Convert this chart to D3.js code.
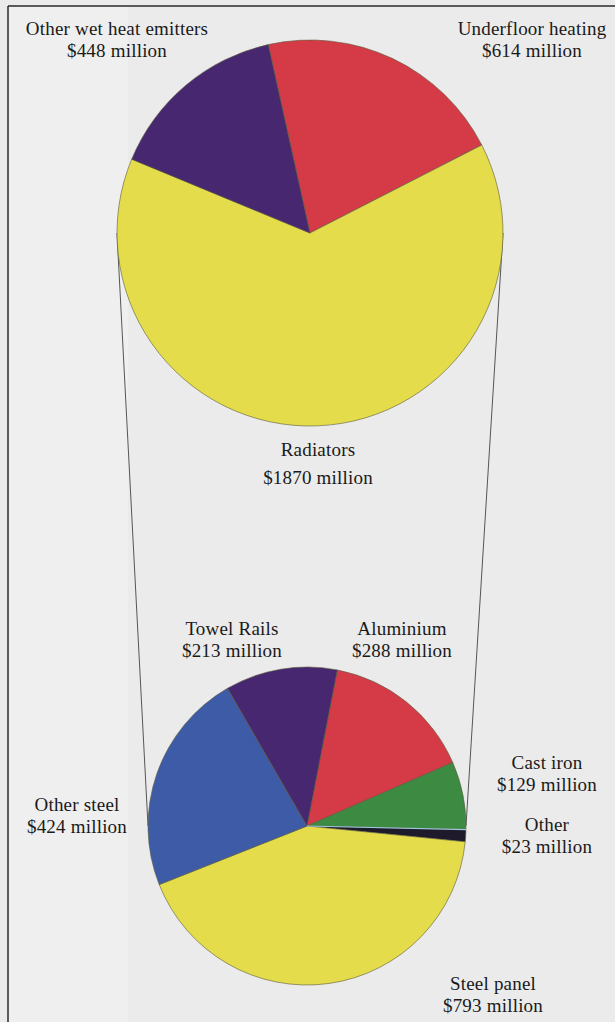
<!DOCTYPE html>
<html>
<head>
<meta charset="utf-8">
<script src="https://cdn.jsdelivr.net/npm/d3@7"></script>
<style>
  html, body { margin: 0; padding: 0; background: #ebebeb; }
  svg { display: block; }
  text { font-family: "Liberation Serif", "DejaVu Serif", serif; fill: #1a1a1a; }
</style>
</head>
<body>
<svg id="chart" width="615" height="1022"></svg>
<script>
// ---- Data ----
const mainCategories = ["Underfloor heating", "Radiators", "Other wet heat emitters"];
const mainValues = [614, 1870, 448];
const mainColors = ["#d43b47", "#e4dc4b", "#472770"];

const subCategories = ["Aluminium", "Cast iron", "Other", "Steel panel", "Other steel", "Towel Rails"];
const subValues = [288, 129, 23, 793, 424, 213];
const subColors = ["#d43b47", "#3d8a43", "#1e1a2c", "#e4dc4b", "#3e5ba7", "#472770"];

const unit = " million";

// ---- Layout ----
const W = 615, H = 1022;
const svg = d3.select("#chart");

svg.append("rect").attr("width", W).attr("height", H).attr("fill", "#ebebeb");
svg.append("rect").attr("x", 8).attr("y", 6).attr("width", 120).attr("height", H).attr("fill", "#efefef");

// border lines
svg.append("line").attr("x1", 8).attr("y1", 6).attr("x2", W).attr("y2", 6)
  .attr("stroke", "#2a2a2a").attr("stroke-width", 1.5);
svg.append("line").attr("x1", 8).attr("y1", 6).attr("x2", 8).attr("y2", H)
  .attr("stroke", "#2a2a2a").attr("stroke-width", 1.5);

const topPie = { cx: 310, cy: 233, r: 193 };
const botPie = { cx: 307, cy: 826, r: 159 };

// connector lines (widest points of both pies)
[-1, 1].forEach(s => {
  svg.append("line")
    .attr("x1", topPie.cx + s * topPie.r).attr("y1", topPie.cy)
    .attr("x2", botPie.cx + s * botPie.r).attr("y2", botPie.cy)
    .attr("stroke", "#555").attr("stroke-width", 1);
});

const deg = Math.PI / 180;

function drawPie(values, colors, center, startDeg) {
  const pie = d3.pie().sort(null).value(d => d)
    .startAngle(startDeg * deg).endAngle((startDeg + 360) * deg);
  const arc = d3.arc().innerRadius(0).outerRadius(center.r);
  const g = svg.append("g").attr("transform", `translate(${center.cx},${center.cy})`);
  g.selectAll("path").data(pie(values)).join("path")
    .attr("d", arc)
    .attr("fill", (d, i) => colors[i])
    .attr("stroke", "#5a5a3a").attr("stroke-width", 0.6);
  return g;
}

drawPie(mainValues, mainColors, topPie, -12.5);
const bg = drawPie(subValues, subColors, botPie, 11);
// light edge between Cast iron and Other
const castEnd = (11 + 360 * (subValues[0] + subValues[1]) / d3.sum(subValues)) * deg;
bg.append("line").attr("x1", 0).attr("y1", 0)
  .attr("x2", botPie.r * Math.sin(castEnd)).attr("y2", -botPie.r * Math.cos(castEnd))
  .attr("stroke", "#9cc8dc").attr("stroke-width", 1.2);

// ---- Labels ----
const labelPos = {
  "Other wet heat emitters": [117, 35],
  "Underfloor heating": [532, 35],
  "Radiators": [318, 456],
  "Towel Rails": [232, 635],
  "Aluminium": [402, 635],
  "Cast iron": [547, 769],
  "Other": [547, 831],
  "Other steel": [77, 811],
  "Steel panel": [493, 990]
};
const allCats = mainCategories.concat(subCategories);
const allVals = mainValues.concat(subValues);
const lineGap = { "Radiators": 28 };

allCats.forEach((c, i) => {
  const [x, y] = labelPos[c];
  const t = svg.append("text").attr("x", x).attr("y", y)
    .attr("text-anchor", "middle").attr("font-size", 19)
    .attr("letter-spacing", 0.2);
  t.append("tspan").attr("x", x).text(c);
  t.append("tspan").attr("x", x).attr("dy", lineGap[c] || 22).text("$" + allVals[i] + unit);
});
</script>
</body>
</html>
